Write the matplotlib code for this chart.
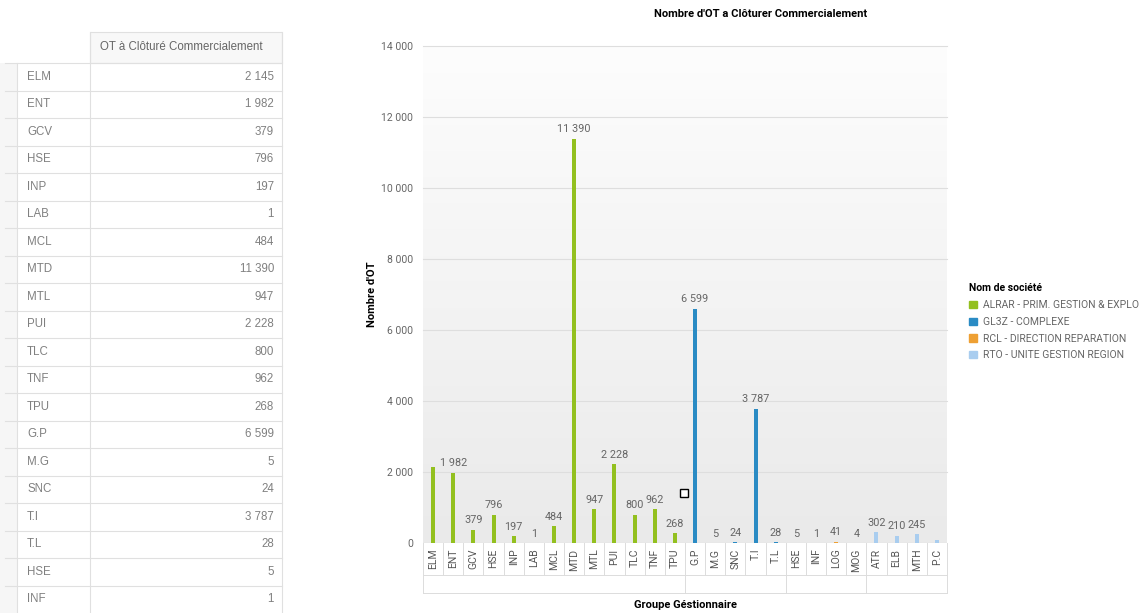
import matplotlib
matplotlib.use("Agg")
from matplotlib import pyplot as plt
from matplotlib.patches import Patch, Rectangle
from matplotlib.colors import LinearSegmentedColormap
import numpy as np

# Data
alrar_cats = ["ELM", "ENT", "GCV", "HSE", "INP", "LAB", "MCL", "MTD", "MTL", "PUI", "TLC", "TNF", "TPU"]
alrar_vals = [2145, 1982, 379, 796, 197, 1, 484, 11390, 947, 2228, 800, 962, 268]
gl3z_cats = ["G.P", "M.G", "SNC", "T.I", "T.L"]
gl3z_vals = [6599, 5, 24, 3787, 28]
rcl_cats = ["HSE", "INF", "LOG", "MOG"]
rcl_vals = [5, 1, 41, 4]
rto_cats = ["ATR", "ELB", "MTH", "P.C"]
rto_vals = [302, 210, 245, 80]

companies = ["ALRAR - PRIM. GESTION & EXPLO", "GL3Z - COMPLEXE",
             "RCL - DIRECTION REPARATION", "RTO - UNITE GESTION REGION"]
colors = ["#93c01f", "#2a8bc4", "#eea033", "#a9cdef"]

table_header = "OT à Clôturé Commercialement"
n_table_rows = 20
hidden_labels = ["ELM", "P.C"]  # labels not shown in the original

groups = [(alrar_cats, alrar_vals), (gl3z_cats, gl3z_vals), (rcl_cats, rcl_vals), (rto_cats, rto_vals)]
all_cats = [c for g in groups for c in g[0]]
all_vals = [v for g in groups for v in g[1]]


def fmt(v):
    return f"{v:,}".replace(",", " ")


W, H = 1145, 613
fig = plt.figure(figsize=(W / 100, H / 100), dpi=100)
narrow = ["Liberation Sans Narrow", "Roboto", "DejaVu Sans"]

# full-figure overlay in pixel coordinates (for the table)
bg = fig.add_axes([0, 0, 1, 1])
bg.set_xlim(0, W)
bg.set_ylim(H, 0)
bg.axis("off")

line_c = "#e0e0e0"
top_hdr, row0, rh = 32, 63, 27.5
bg.add_patch(Rectangle((90, top_hdr), 192, row0 - top_hdr, fc="#f8f8f8", ec=line_c, lw=0.8))
bg.text(100, (top_hdr + row0) / 2, table_header, fontsize=8.3, color="#666666",
        va="center", ha="left", family="Liberation Sans")
for i in range(n_table_rows):
    y0 = row0 + i * rh
    bg.add_patch(Rectangle((0, y0), 17, rh, fc="#f6f6f6", ec="none"))
    bg.plot([5, 282], [y0, y0], color=line_c, lw=0.8)
    bg.text(27, y0 + rh / 2, all_cats[i], fontsize=8.3, color="#808080", va="center",
            ha="left", family="Liberation Sans")
    bg.text(274, y0 + rh / 2, fmt(all_vals[i]), fontsize=8.3, color="#808080",
            va="center", ha="right", family="Liberation Sans")
bg.plot([17, 17], [row0, H], color=line_c, lw=0.8)
bg.plot([90, 90], [top_hdr, H], color=line_c, lw=0.8)
bg.plot([282, 282], [top_hdr, H], color=line_c, lw=0.8)

# chart axes
L, R, T, B = 423, 947, 46, 543
ax = fig.add_axes([L / W, (H - B) / H, (R - L) / W, (B - T) / H])
ymax = 14000
ax.set_ylim(0, ymax)
ax.set_xlim(-0.5, len(all_cats) - 0.5)

cmap = LinearSegmentedColormap.from_list("bgc", ["#eaeaea", "#fdfdfd"])
grad = np.linspace(0, 1, 256).reshape(-1, 1)
ax.imshow(grad, cmap=cmap, aspect="auto", extent=[0, 1, 0, 1], origin="lower",
          transform=ax.transAxes, zorder=0)

for t in np.arange(2000, ymax + 1, 2000):
    ax.axhline(t, color="#dedede", lw=0.8, zorder=1, clip_on=False)

pos = 0
for (cats, vals), col in zip(groups, colors):
    x = np.arange(pos, pos + len(cats))
    ax.bar(x, vals, width=0.2, color=col, zorder=3)
    for xi, c, v in zip(x, cats, vals):
        if c in hidden_labels and (xi == 0 or xi == len(all_cats) - 1):
            continue
        ax.text(xi, v + 120, fmt(v), ha="center", va="bottom", fontsize=7.8,
                color="#666666", family=narrow, zorder=4)
    pos += len(cats)

for s in ax.spines.values():
    s.set_visible(False)
ax.axhline(0, color="#cfcfcf", lw=0.8, zorder=2)

ax.set_yticks(np.arange(0, ymax + 1, 2000))
ax.set_yticklabels([fmt(int(t)) for t in np.arange(0, ymax + 1, 2000)],
                   fontsize=7.5, color="#666666", family=narrow)
ax.tick_params(axis="y", length=0, pad=7)
ax.set_xticks(np.arange(len(all_cats)))
ax.set_xticklabels(all_cats, rotation=90, fontsize=7.5, color="#555555", family=narrow)
ax.tick_params(axis="x", length=0, pad=4)


# category/group cells under the axis
def py(p):
    return (B - p) / (B - T)


tr = ax.get_xaxis_transform()
cell_c = "#dcdcdc"
for i in range(len(all_cats) + 1):
    ax.plot([i - 0.5, i - 0.5], [0, py(575)], color=cell_c, lw=0.7, transform=tr, clip_on=False)
ax.plot([-0.5, len(all_cats) - 0.5], [py(575), py(575)], color=cell_c, lw=0.7, transform=tr, clip_on=False)
ax.plot([-0.5, len(all_cats) - 0.5], [py(593), py(593)], color=cell_c, lw=0.7, transform=tr, clip_on=False)
pos = 0
for cats, vals in groups:
    ax.plot([pos - 0.5, pos - 0.5], [py(575), py(593)], color=cell_c, lw=0.7, transform=tr, clip_on=False)
    pos += len(cats)
ax.plot([pos - 0.5, pos - 0.5], [py(575), py(593)], color=cell_c, lw=0.7, transform=tr, clip_on=False)

# small square cursor artifact
ax.plot([12.45], [1400], marker="s", ms=6, mfc="white", mec="black", mew=1, zorder=5)

ax.set_ylabel("Nombre d'OT", fontsize=8, fontweight="bold", family=narrow, labelpad=3)
fig.text(685 / W, 1 - 605 / H, "Groupe Géstionnaire", ha="center", va="center",
         fontsize=8, fontweight="bold", family=narrow)
fig.text(761 / W, 1 - 14 / H, "Nombre d'OT a Clôturer Commercialement", ha="center",
         va="center", fontsize=8, fontweight="bold", family=narrow)

handles = [Patch(color=c) for c in colors]
leg = fig.legend(handles, companies, loc="upper left", bbox_to_anchor=(960 / W, 1 - 274 / H),
                 title="Nom de société", frameon=False, handlelength=0.7, handleheight=0.7,
                 handletextpad=0.6, labelspacing=0.65, alignment="left",
                 prop={"family": narrow, "size": 7.5},
                 title_fontproperties={"family": narrow, "size": 7.5, "weight": "bold"})
for t in leg.get_texts():
    t.set_color("#666666")

plt.savefig("out.png", dpi=100)
